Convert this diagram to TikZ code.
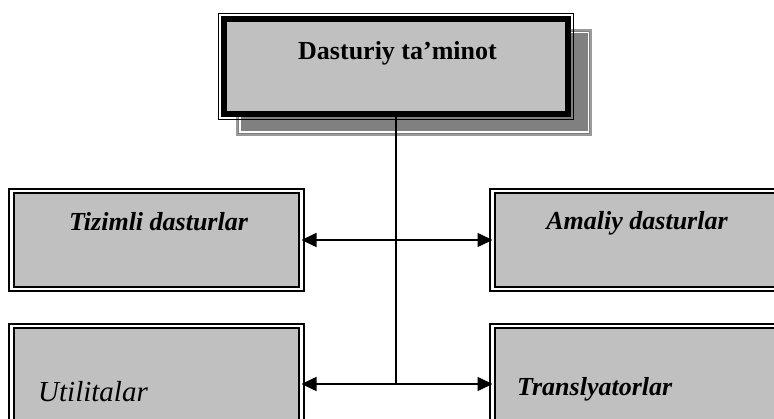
\documentclass[tikz,border=0pt]{standalone}
\usepackage{fontspec}
\setmainfont{Liberation Serif}
\usetikzlibrary{arrows.meta}

\definecolor{boxgray}{HTML}{C0C0C0}
\definecolor{shadowgray}{HTML}{808080}
\definecolor{shadowedge}{HTML}{9A9A9A}

\tikzset{
  panel/.style={draw=black, double=white, line width=2pt, double distance=2.2pt,
                fill=boxgray, rectangle, inner sep=0pt, outer sep=0pt, minimum width=290pt},
  headbox/.style={draw=black, line width=6pt, fill=boxgray, rectangle, inner sep=0pt, outer sep=0pt,
                  minimum width=344pt, minimum height=95pt},
  shadowbox/.style={draw=shadowedge, line width=2pt, fill=shadowgray, rectangle, inner sep=0pt,
                    outer sep=0pt, minimum width=354pt, minimum height=105pt},
  caption/.style={inner sep=0pt, font=\fontsize{26}{30}\selectfont\bfseries\itshape},
  link/.style={line width=1.6pt, draw=black},
  twoway/.style={link, {Triangle[length=15pt,width=14pt]}-{Triangle[length=15pt,width=14pt]}}
}

\begin{document}
\begin{tikzpicture}[x=1pt, y=-1pt]
  \useasboundingbox (0,0) rectangle (774,419);

  % drop shadow behind the heading box
  \node[shadowbox] (shade) at (414,82.5) {};
  \draw[white, line width=1.4pt]
    ([xshift=2.8pt,yshift=-2.8pt]shade.north west) rectangle ([xshift=-2.8pt,yshift=2.8pt]shade.south east);

  % heading box: thick frame plus a thin outer frame
  \node[headbox] (top) at (396,66.5) {};
  \draw[black, line width=1.4pt]
    ([xshift=-5.6pt,yshift=5.6pt]top.north west) rectangle ([xshift=5.6pt,yshift=-5.6pt]top.south east);
  \node[caption, font=\fontsize{26}{30}\selectfont\bfseries, anchor=base] (toptext) at (397.5,60) {Dasturiy ta’minot};

  % four framed panels
  \node[panel, minimum height=98pt] (tiz) at (156.5,240) {};
  \node[panel, minimum height=98pt] (ama) at (637.5,240) {};
  \node[panel, minimum height=116pt] (util) at (156.5,384) {};
  \node[panel, minimum height=116pt] (trans) at (637.5,384) {};

  \node[caption, anchor=base] (tiztext) at (158.5,231) {Tizimli dasturlar};
  \node[caption, anchor=base] (amatext) at (637,230) {Amaliy dasturlar};
  \node[inner sep=0pt, anchor=base west, font=\fontsize{29}{33}\selectfont\itshape] (utiltext) at (38,402) {Utilitalar};
  \node[caption, anchor=base west] (transtext) at (517,396) {Translyatorlar};

  % connectors
  \coordinate (j) at (top |- util.east);
  \draw[link, line width=1.3pt] (top.south) -- (j);
  \draw[twoway] (tiz.east) -- (ama.west);
  \draw[twoway] (util.east) -- (trans.west);
\end{tikzpicture}
\end{document}
